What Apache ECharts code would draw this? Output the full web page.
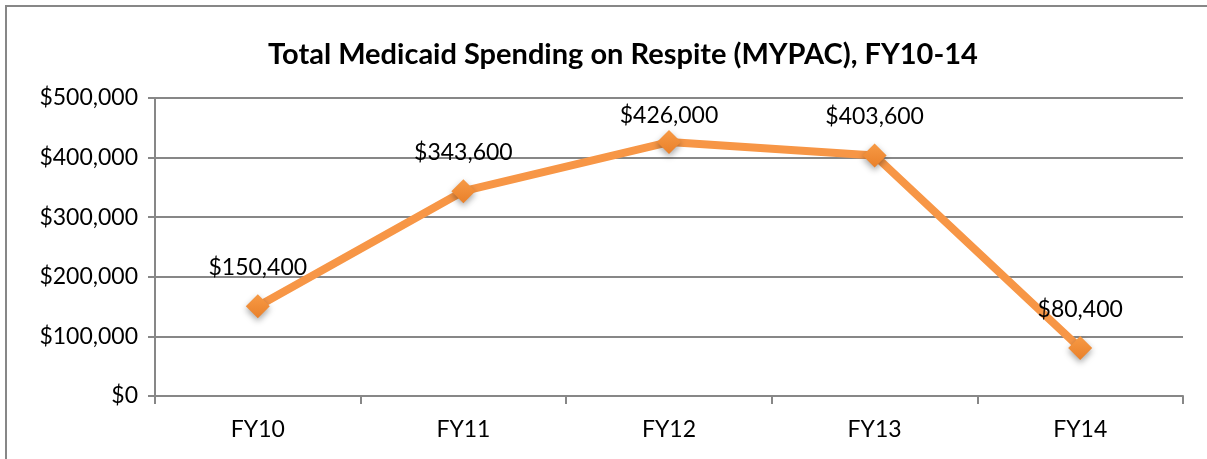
<!DOCTYPE html>
<html>
<head>
<meta charset="utf-8">
<script src="https://cdn.jsdelivr.net/npm/echarts@6/dist/echarts.min.js"></script>
<style>
  html, body { margin: 0; padding: 0; background: #fff; }
  #chart { width: 1207px; height: 459px; }
</style>
</head>
<body>
<div id="chart"></div>
<script>
// data
var years = ['FY10', 'FY11', 'FY12', 'FY13', 'FY14']
var spending = [150400, 343600, 426000, 403600, 80400]
var chartTitle = 'Total Medicaid Spending on Respite (MYPAC), FY10-14'

function money(v) {
  return '$' + String(v).replace(/\B(?=(\d{3})+(?!\d))/g, ',')
}

var myChart = echarts.init(document.getElementById('chart'))
var font = 'Lato, "Open Sans", sans-serif'
var plotTop = 98

var option = {
  animation: false,
  textStyle: { fontFamily: font },
  graphic: [{
    type: 'rect',
    shape: { x: 6, y: 6, width: 1240, height: 480 },
    style: { fill: 'none', stroke: '#878787', lineWidth: 2 },
    silent: true
  }],
  title: {
    text: chartTitle,
    left: 618,
    top: 35,
    textAlign: 'center',
    textStyle: { fontFamily: font, fontSize: 29, fontWeight: 'bold', color: '#000' }
  },
  grid: { left: 155, right: 24, top: plotTop, bottom: 63 },
  xAxis: {
    type: 'category',
    data: years,
    boundaryGap: true,
    axisLine: { lineStyle: { color: '#878787', width: 2 } },
    axisTick: { show: true, length: 8, lineStyle: { color: '#878787', width: 2 } },
    axisLabel: { color: '#000', fontSize: 23, margin: 22, fontFamily: font }
  },
  yAxis: {
    type: 'value',
    min: 0,
    max: 500000,
    interval: 100000,
    axisLine: { show: true, lineStyle: { color: '#878787', width: 2 } },
    axisTick: { show: true, length: 7, lineStyle: { color: '#878787', width: 2 } },
    splitLine: { lineStyle: { color: '#878787', width: 2 } },
    axisLabel: { color: '#000', fontSize: 23, margin: 17, fontFamily: font, formatter: money }
  },
  series: [{
    type: 'line',
    data: spending,
    symbol: 'diamond',
    symbolSize: 24,
    lineStyle: { color: '#F79646', width: 8 },
    itemStyle: {
      color: new echarts.graphic.LinearGradient(0, 0, 0, 1, [
        { offset: 0, color: '#F79A45' },
        { offset: 1, color: '#E9802A' }
      ]),
      shadowColor: 'rgba(0,0,0,0.35)',
      shadowBlur: 6,
      shadowOffsetY: 3
    },
    label: {
      show: true,
      position: 'top',
      distance: 15,
      color: '#000',
      fontSize: 23,
      fontFamily: font,
      formatter: function (p) { return money(p.value) }
    },
    // keep labels inside the plot area, like excel does
    labelLayout: function (p) {
      var lim = plotTop + 6
      if (p.labelRect.y < lim) return { dy: lim - p.labelRect.y }
      return {}
    },
    z: 3
  }]
}

myChart.setOption(option)
window.onresize = function () {
  myChart.resize()
}
</script>
</body>
</html>
